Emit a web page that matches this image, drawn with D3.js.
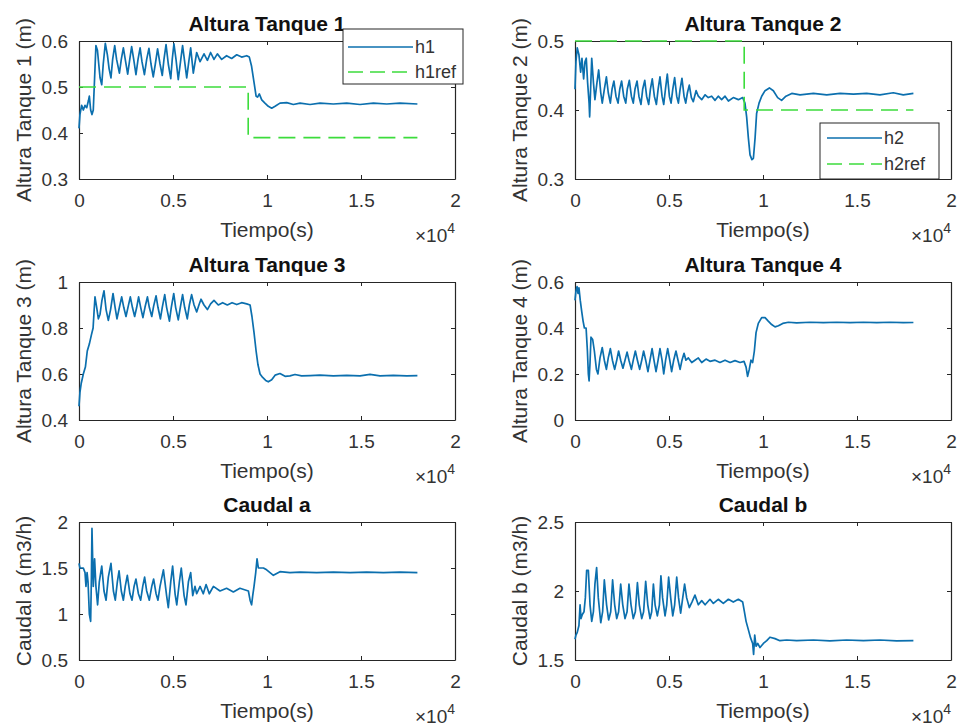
<!DOCTYPE html>
<html lang="es">
<head>
<meta charset="UTF-8">
<title>Alturas y caudales</title>
<style>
  body { margin: 0; background: #fff; }
  svg text { font-family: "Liberation Sans", Arial, Helvetica, sans-serif; fill: #333; }
  .tick line { stroke: #262626; }
  .domain { stroke: #262626; }
  .title { font-weight: bold; font-size: 21px; fill: #111; }
  .lab { font-size: 21px; }
  .tick text { font-size: 19px; }
</style>
</head>
<body>
<script src="https://d3js.org/d3.v7.min.js"></script>
<script>
// time in seconds
var h1 = [[0,0.41],[50,0.44],[140,0.46],[230,0.45],[320,0.46],[410,0.455],[500,0.47],[550,0.48],[620,0.45],[690,0.44],[760,0.45],[830,0.52],[900,0.59],[980,0.58],[1050,0.55],[1120,0.52],[1210,0.505],[1290,0.55],[1400,0.595],[1510,0.57],[1600,0.54],[1700,0.52],[1790,0.56],[1900,0.59],[2000,0.56],[2150,0.53],[2250,0.56],[2360,0.585],[2460,0.56],[2590,0.528],[2700,0.56],[2800,0.588],[2910,0.56],[3030,0.527],[3140,0.56],[3250,0.585],[3350,0.555],[3480,0.527],[3600,0.56],[3720,0.584],[3830,0.55],[3950,0.522],[4060,0.55],[4180,0.583],[4310,0.55],[4430,0.525],[4520,0.56],[4630,0.592],[4750,0.55],[4880,0.518],[4960,0.56],[5050,0.594],[5160,0.56],[5280,0.516],[5400,0.555],[5510,0.59],[5620,0.555],[5730,0.52],[5840,0.555],[5940,0.585],[6080,0.53],[6260,0.575],[6440,0.555],[6650,0.572],[6830,0.558],[7000,0.575],[7180,0.56],[7360,0.572],[7590,0.56],[7850,0.568],[8120,0.562],[8390,0.57],[8650,0.565],[8920,0.568],[9060,0.565],[9180,0.545],[9310,0.51],[9420,0.48],[9500,0.478],[9590,0.485],[9720,0.472],[9890,0.465],[10070,0.458],[10250,0.454],[10430,0.458],[10690,0.465],[11050,0.466],[11400,0.462],[11760,0.465],[12290,0.462],[12820,0.465],[13530,0.463],[14240,0.465],[14950,0.462],[15660,0.465],[16370,0.463],[17070,0.465],[18000,0.463]];
var h1ref = [[0,0.5],[9000,0.5],[9000,0.39],[18000,0.39]];

var h2 = [[0,0.43],[50,0.47],[120,0.49],[210,0.48],[300,0.455],[370,0.475],[460,0.445],[530,0.47],[600,0.475],[670,0.44],[750,0.41],[780,0.39],[830,0.43],[890,0.475],[980,0.44],[1060,0.415],[1170,0.44],[1260,0.458],[1370,0.425],[1450,0.41],[1560,0.43],[1670,0.448],[1770,0.425],[1880,0.41],[1970,0.43],[2070,0.442],[2180,0.42],[2290,0.41],[2380,0.43],[2480,0.442],[2590,0.42],[2700,0.41],[2780,0.43],[2890,0.443],[3000,0.42],[3100,0.41],[3190,0.43],[3300,0.442],[3400,0.42],[3510,0.408],[3600,0.43],[3710,0.443],[3810,0.42],[3920,0.408],[4010,0.43],[4110,0.445],[4220,0.42],[4330,0.408],[4420,0.43],[4520,0.448],[4630,0.42],[4720,0.408],[4810,0.43],[4910,0.452],[5020,0.42],[5110,0.41],[5200,0.43],[5300,0.447],[5410,0.42],[5500,0.41],[5590,0.43],[5690,0.446],[5800,0.42],[5890,0.41],[5980,0.425],[6080,0.436],[6190,0.418],[6290,0.412],[6440,0.428],[6560,0.42],[6740,0.415],[6920,0.422],[7090,0.418],[7270,0.42],[7450,0.414],[7620,0.42],[7800,0.415],[7980,0.42],[8160,0.413],[8420,0.418],[8690,0.415],[8920,0.418],[9040,0.41],[9130,0.39],[9220,0.36],[9310,0.335],[9410,0.328],[9490,0.33],[9580,0.36],[9660,0.395],[9790,0.41],[9930,0.42],[10110,0.428],[10340,0.432],[10550,0.428],[10780,0.418],[10990,0.414],[11220,0.42],[11530,0.424],[11970,0.422],[12680,0.424],[13390,0.422],[14100,0.424],[14810,0.423],[15510,0.424],[16220,0.422],[16930,0.425],[17460,0.422],[18000,0.424]];
var h2ref = [[0,0.5],[9000,0.5],[9000,0.4],[18000,0.4]];

var h3 = [[0,0.46],[50,0.52],[120,0.56],[230,0.6],[340,0.63],[440,0.7],[550,0.73],[660,0.77],[750,0.8],[800,0.87],[850,0.935],[940,0.89],[1030,0.84],[1120,0.86],[1220,0.92],[1330,0.962],[1440,0.88],[1560,0.833],[1680,0.88],[1810,0.95],[1920,0.89],[2020,0.84],[2150,0.89],[2270,0.935],[2380,0.89],[2500,0.85],[2620,0.895],[2730,0.935],[2840,0.89],[2960,0.85],[3070,0.89],[3170,0.935],[3280,0.89],[3400,0.845],[3510,0.89],[3640,0.935],[3740,0.89],[3870,0.85],[3970,0.895],[4100,0.94],[4200,0.89],[4330,0.84],[4430,0.89],[4560,0.945],[4660,0.89],[4810,0.83],[4910,0.89],[5040,0.95],[5140,0.89],[5280,0.835],[5390,0.89],[5510,0.945],[5620,0.89],[5760,0.84],[5870,0.9],[5990,0.945],[6120,0.9],[6260,0.87],[6380,0.9],[6490,0.925],[6650,0.9],[6830,0.88],[7000,0.905],[7180,0.92],[7410,0.9],[7640,0.91],[7890,0.9],[8140,0.91],[8390,0.902],[8650,0.91],[8920,0.905],[9100,0.9],[9200,0.85],[9310,0.78],[9420,0.7],[9520,0.64],[9630,0.6],[9770,0.585],[9930,0.572],[10070,0.566],[10250,0.575],[10430,0.595],[10690,0.602],[10960,0.59],[11220,0.592],[11490,0.598],[11840,0.592],[12290,0.593],[12820,0.595],[13530,0.592],[14240,0.594],[14950,0.592],[15480,0.598],[16010,0.592],[16720,0.594],[17430,0.592],[18000,0.593]];

var h4 = [[0,0.52],[50,0.56],[110,0.58],[160,0.55],[210,0.575],[280,0.52],[360,0.47],[430,0.43],[500,0.4],[590,0.4],[660,0.3],[710,0.2],[750,0.17],[800,0.25],[850,0.36],[940,0.35],[1030,0.3],[1140,0.22],[1220,0.2],[1330,0.27],[1450,0.315],[1560,0.26],[1670,0.22],[1770,0.27],[1880,0.31],[1990,0.26],[2110,0.22],[2220,0.26],[2320,0.3],[2430,0.26],[2550,0.225],[2660,0.26],[2770,0.295],[2870,0.26],[3000,0.22],[3100,0.26],[3210,0.3],[3320,0.26],[3440,0.22],[3550,0.26],[3650,0.3],[3760,0.26],[3880,0.21],[3990,0.26],[4100,0.31],[4200,0.26],[4310,0.21],[4420,0.26],[4520,0.31],[4630,0.26],[4720,0.2],[4820,0.26],[4930,0.31],[5040,0.26],[5140,0.21],[5250,0.26],[5370,0.3],[5480,0.26],[5590,0.22],[5690,0.26],[5800,0.29],[5900,0.26],[6030,0.27],[6210,0.25],[6380,0.26],[6560,0.27],[6740,0.25],[6970,0.265],[7180,0.255],[7450,0.26],[7710,0.25],[7980,0.26],[8250,0.25],[8510,0.258],[8780,0.25],[8990,0.255],[9100,0.23],[9180,0.19],[9270,0.22],[9360,0.26],[9450,0.25],[9540,0.3],[9630,0.38],[9750,0.42],[9930,0.445],[10110,0.445],[10280,0.43],[10460,0.415],[10640,0.405],[10820,0.41],[11050,0.42],[11350,0.425],[11790,0.422],[12500,0.425],[13210,0.423],[13920,0.425],[14630,0.423],[15340,0.425],[16050,0.423],[16760,0.425],[17460,0.423],[18000,0.424]];

var qa = [[0,1.55],[50,1.5],[230,1.5],[320,1.45],[370,1.3],[430,1.45],[480,1.35],[550,1.0],[620,0.92],[660,1.4],[690,1.93],[760,1.3],[830,1.6],[900,1.3],[990,1.1],[1080,1.35],[1210,1.52],[1330,1.25],[1440,1.15],[1560,1.4],[1700,1.55],[1830,1.25],[1930,1.15],[2040,1.35],[2130,1.47],[2250,1.25],[2360,1.15],[2460,1.3],[2570,1.42],[2710,1.22],[2820,1.15],[2930,1.3],[3030,1.38],[3160,1.22],[3280,1.15],[3390,1.3],[3490,1.4],[3600,1.25],[3740,1.15],[3870,1.3],[3970,1.38],[4100,1.22],[4200,1.15],[4310,1.3],[4490,1.48],[4660,1.2],[4750,1.07],[4880,1.35],[4980,1.52],[5110,1.22],[5200,1.1],[5340,1.35],[5440,1.5],[5590,1.2],[5690,1.1],[5820,1.35],[5940,1.45],[6050,1.2],[6170,1.3],[6260,1.22],[6440,1.3],[6610,1.22],[6760,1.32],[6930,1.22],[7150,1.3],[7500,1.25],[7850,1.28],[8210,1.24],[8560,1.28],[9010,1.25],[9100,1.15],[9180,1.1],[9240,1.2],[9310,1.3],[9400,1.45],[9470,1.6],[9540,1.5],[9810,1.5],[9980,1.48],[10160,1.45],[10340,1.42],[10690,1.46],[11220,1.45],[11760,1.455],[12640,1.45],[13530,1.455],[14420,1.45],[15300,1.455],[16190,1.45],[17070,1.455],[18000,1.45]];

var qb = [[0,1.65],[50,1.68],[120,1.7],[210,1.75],[270,1.9],[320,1.8],[390,1.83],[480,1.85],[550,1.95],[620,2.15],[710,2.15],[800,1.9],[890,1.78],[980,1.85],[1060,2.05],[1150,2.17],[1240,1.95],[1370,1.77],[1470,1.85],[1560,2.08],[1680,1.9],[1790,1.79],[1900,1.85],[2000,2.08],[2110,1.9],[2220,1.8],[2320,1.85],[2430,2.05],[2540,1.9],[2660,1.8],[2770,1.85],[2870,2.05],[2980,1.9],[3100,1.8],[3210,1.85],[3320,2.06],[3420,1.9],[3550,1.8],[3650,1.85],[3760,2.07],[3870,1.9],[3990,1.8],[4080,1.85],[4170,2.05],[4260,1.9],[4380,1.82],[4490,1.9],[4570,2.11],[4660,1.95],[4790,1.82],[4880,1.9],[4980,2.1],[5090,1.95],[5200,1.82],[5300,1.9],[5410,2.1],[5510,1.95],[5620,1.84],[5730,1.95],[5830,2.05],[5940,1.95],[6080,1.88],[6220,1.92],[6380,1.97],[6560,1.9],[6740,1.93],[6920,1.9],[7180,1.94],[7360,1.91],[7620,1.94],[7890,1.91],[8160,1.94],[8420,1.92],[8690,1.94],[8920,1.92],[9010,1.85],[9100,1.78],[9220,1.72],[9340,1.66],[9450,1.62],[9500,1.54],[9560,1.68],[9630,1.6],[9720,1.62],[9840,1.59],[10020,1.62],[10200,1.64],[10370,1.665],[10640,1.655],[10900,1.64],[11260,1.645],[11790,1.64],[12680,1.645],[13560,1.638],[14450,1.645],[15340,1.64],[16220,1.645],[17110,1.638],[18000,1.64]];

var titles = ["Altura Tanque 1", "Altura Tanque 2", "Altura Tanque 3", "Altura Tanque 4", "Caudal a", "Caudal b"];
var yLabels = ["Altura Tanque 1 (m)", "Altura Tanque 2 (m)", "Altura Tanque 3 (m)", "Altura Tanque 4 (m)", "Caudal a (m3/h)", "Caudal b (m3/h)"];
var yTicks = [[0.3,0.4,0.5,0.6], [0.3,0.4,0.5], [0.4,0.6,0.8,1], [0,0.2,0.4,0.6], [0.5,1,1.5,2], [1.5,2,2.5]];
var xTicks = [0, 5000, 10000, 15000, 20000];
var xTickLabels = ["0", "0.5", "1", "1.5", "2"];
var legend1 = ["h1", "h1ref"];
var legend2 = ["h2", "h2ref"];

var blue = "#0b6fae", green = "#3cdc3c";

var panels = [
  {series: [h1], ref: h1ref, legend: legend1},
  {series: [h2], ref: h2ref, legend: legend2},
  {series: [h3]},
  {series: [h4]},
  {series: [qa]},
  {series: [qb]}
];

var colX = [79, 575], rowY = [41, 282, 522];
var pw = 376, ph = 138;

var svg = d3.select("body").append("svg")
  .attr("width", 959).attr("height", 727);

panels.forEach(function(p, i) {
  var x0 = colX[i % 2], y0 = rowY[Math.floor(i / 2)];
  var yt = yTicks[i];
  var x = d3.scaleLinear().domain([0, 20000]).range([0, pw]);
  var y = d3.scaleLinear().domain([yt[0], yt[yt.length - 1]]).range([ph, 0]);

  var g = svg.append("g").attr("transform", "translate(" + x0 + "," + y0 + ")");

  g.append("rect").attr("width", pw).attr("height", ph).attr("fill", "#fff");

  // box with inward ticks on every side
  g.append("g").attr("transform", "translate(0," + ph + ")")
    .call(d3.axisBottom(x).tickValues(xTicks).tickSize(-4).tickSizeOuter(0).tickPadding(15)
      .tickFormat(function(d, k) { return xTickLabels[k]; }));
  g.append("g")
    .call(d3.axisTop(x).tickValues(xTicks).tickSize(-4).tickSizeOuter(0).tickFormat(""));
  g.append("g")
    .call(d3.axisLeft(y).tickValues(yt).tickSize(-4).tickSizeOuter(0).tickPadding(11)
      .tickFormat(function(d) { return String(+d.toFixed(2)); }));
  g.append("g").attr("transform", "translate(" + pw + ",0)")
    .call(d3.axisRight(y).tickValues(yt).tickSize(-4).tickSizeOuter(0).tickFormat(""));
  g.selectAll(".tick text").attr("font-family", null).attr("font-size", null).attr("fill", null);
  g.selectAll(".domain").attr("stroke-width", 1.2);

  var line = d3.line().x(function(d) { return x(d[0]); }).y(function(d) { return y(d[1]); });

  p.series.forEach(function(s) {
    g.append("path").datum(s).attr("d", line)
      .attr("fill", "none").attr("stroke", blue).attr("stroke-width", 1.7)
      .attr("stroke-linejoin", "round");
  });
  if (p.ref) {
    g.append("path").datum(p.ref).attr("d", line)
      .attr("fill", "none").attr("stroke", green).attr("stroke-width", 1.6)
      .attr("stroke-dasharray", "17,8");
  }

  g.append("text").attr("class", "title")
    .attr("x", pw / 2).attr("y", -10).attr("text-anchor", "middle")
    .text(titles[i]);
  g.append("text").attr("class", "lab")
    .attr("transform", "translate(-48," + (ph / 2) + ") rotate(-90)")
    .attr("text-anchor", "middle").text(yLabels[i]);
  g.append("text").attr("class", "lab")
    .attr("x", pw / 2).attr("y", ph + 58).attr("text-anchor", "middle")
    .text("Tiempo(s)");
  var ex = g.append("text").attr("x", pw).attr("y", ph + 63)
    .attr("text-anchor", "end").attr("font-size", 19);
  ex.append("tspan").text("\u00d710");
  ex.append("tspan").attr("dy", -9).attr("font-size", 14).text("4");

  if (p.legend) {
    var lg = i === 0 ? {x: 264, y: -12, w: 120, h: 55, r1: 18, r2: 43, lx: 269, lw: 65}
                     : {x: 245, y: 82, w: 119, h: 56, r1: 15, r2: 41, lx: 252, lw: 55};
    var L = g.append("g").attr("transform", "translate(" + lg.x + "," + lg.y + ")");
    L.append("rect").attr("width", lg.w).attr("height", lg.h)
      .attr("fill", "#fff").attr("stroke", "#262626").attr("stroke-width", 1);
    [[blue, null], [green, "15,7"]].forEach(function(st, k) {
      var yy = k === 0 ? lg.r1 : lg.r2;
      L.append("line").attr("x1", lg.lx - lg.x).attr("x2", lg.lx - lg.x + lg.lw)
        .attr("y1", yy).attr("y2", yy)
        .attr("stroke", st[0]).attr("stroke-width", 1.5).attr("stroke-dasharray", st[1]);
      L.append("text").attr("x", lg.lx - lg.x + lg.lw + 2).attr("y", yy + 6)
        .attr("font-size", 18).text(p.legend[k]);
    });
  }
});
</script>
</body>
</html>
